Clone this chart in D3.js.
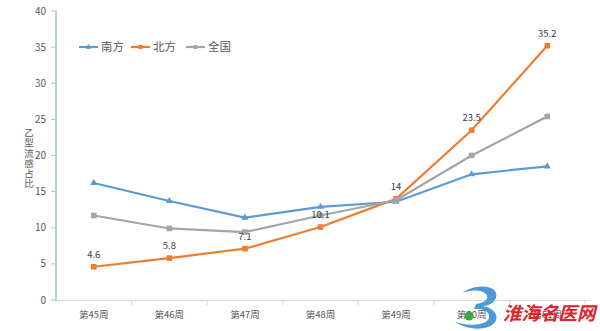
<!DOCTYPE html>
<html><head><meta charset="utf-8">
<script src="https://cdn.jsdelivr.net/npm/d3@7"></script>
<style>body{margin:0;background:#fff}svg{display:block}</style>
</head><body><svg id="c" width="600" height="331"></svg>
<script>
const weeks = ["第45周","第46周","第47周","第48周","第49周","第50周","第51周"];
const south = [16.2, 13.7, 11.4, 12.9, 13.6, 17.4, 18.5];
const north = [4.6, 5.8, 7.1, 10.1, 14, 23.5, 35.2];
const nation = [11.7, 9.9, 9.4, 11.7, 13.8, 20.0, 25.4];
const yTicks = [0,5,10,15,20,25,30,35,40];
const seriesNames = ["南方","北方","全国"];
const colors = ["#5b9bd5","#ed7d31","#a5a5a5"];
const yTitle = "乙型流感占比";

const svg = d3.select("#c");
const font = "'Microsoft YaHei','Noto Sans CJK SC',sans-serif";
const x = d3.scaleBand().domain(weeks).range([56, 585]);
const y = d3.scaleLinear().domain([0,40]).range([300, 11]);

// y tick labels & ticks
const yg = svg.append("g");
yTicks.forEach(t=>{
  yg.append("line").attr("x1",51).attr("x2",56).attr("y1",y(t)).attr("y2",y(t)).attr("stroke","#bfbfbf");
  yg.append("text").attr("x",46).attr("y",y(t)+3.5).attr("text-anchor","end")
    .attr("font-size",10).attr("fill","#595959").attr("font-family",font).text(t);
});
// x axis
svg.append("line").attr("x1",56).attr("x2",590).attr("y1",300.5).attr("y2",300.5).attr("stroke","#d9d9d9");
weeks.forEach((w,i)=>{
  const bx = x(w) + x.bandwidth();
  svg.append("line").attr("x1",bx).attr("x2",bx).attr("y1",300).attr("y2",305).attr("stroke","#d9d9d9");
  svg.append("text").attr("x",x(w)+x.bandwidth()/2).attr("y",318).attr("text-anchor","middle")
    .attr("font-size",9.5).attr("fill","#595959").attr("font-family",font).text(w);
});
// y axis line
svg.append("line").attr("x1",56).attr("x2",56).attr("y1",y(40)).attr("y2",301).attr("stroke","#b4cfe3").attr("stroke-width",2);

// y title vertical (upright characters)
svg.append("text").attr("x",29).attr("y",128)
  .style("writing-mode","vertical-rl").style("text-orientation","upright")
  .attr("font-size",9.5).attr("letter-spacing",0.6).attr("fill","#595959").attr("font-family",font).text(yTitle);

const data = [south, north, nation];
const line = d3.line().x((d,i)=>x(weeks[i])+x.bandwidth()/2).y(d=>y(d));
data.forEach((s,k)=>{
  svg.append("path").datum(s).attr("d",line).attr("fill","none").attr("stroke",colors[k]).attr("stroke-width",2.2).attr("stroke-linejoin","round");
});
// markers
data.forEach((s,k)=>{
  s.forEach((v,i)=>{
    const cx = x(weeks[i])+x.bandwidth()/2, cy = y(v);
    if(k===0){
      svg.append("path").attr("d",d3.symbol(d3.symbolTriangle,22)()).attr("transform",`translate(${cx},${cy})`).attr("fill",colors[k]);
    } else {
      svg.append("rect").attr("x",cx-2.8).attr("y",cy-2.8).attr("width",5.6).attr("height",5.6).attr("fill",colors[k]);
    }
  });
});
// labels for north
north.forEach((v,i)=>{
  svg.append("text").attr("x",x(weeks[i])+x.bandwidth()/2).attr("y",y(v)-9).attr("text-anchor","middle")
    .attr("font-size",9.5).attr("fill","#404040").attr("font-family",font).text(v);
});

// legend
const lg = svg.append("g");
const lx = [79,131,186];
seriesNames.forEach((n,k)=>{
  lg.append("line").attr("x1",lx[k]).attr("x2",lx[k]+19).attr("y1",47).attr("y2",47).attr("stroke",colors[k]).attr("stroke-width",2.2);
  if(k===0) lg.append("path").attr("d",d3.symbol(d3.symbolTriangle,14)()).attr("transform",`translate(${lx[k]+9.5},47)`).attr("fill",colors[k]);
  else lg.append("rect").attr("x",lx[k]+7.5).attr("y",45).attr("width",4).attr("height",4).attr("fill",colors[k]);
  lg.append("text").attr("x",lx[k]+22).attr("y",51).attr("font-size",11.5).attr("fill","#595959").attr("font-family",font).text(n);
});

// watermark
const wm = svg.append("g");
wm.append("path").attr("d","M462,293 C478,282 500,286 496,298 C493,305 486,306 482,306 C498,308 502,322 488,327 C476,331 463,327 455,322 C468,326 486,326 489,318 C491,311 480,308 474,309 L476,304 C484,303 490,299 486,294 C481,289 470,290 462,293 Z")
  .attr("fill","#3a8fd0").attr("opacity",0.9);
wm.append("circle").attr("cx",469).attr("cy",316).attr("r",4.5).attr("fill","#3aa845");
wm.append("text").attr("x",503).attr("y",320).attr("font-size",18.5).attr("font-weight","bold").attr("font-style","italic")
  .attr("fill","#e0232a").attr("font-family","'Noto Sans CJK SC',sans-serif").text("淮海名医网");
</script></body></html>
